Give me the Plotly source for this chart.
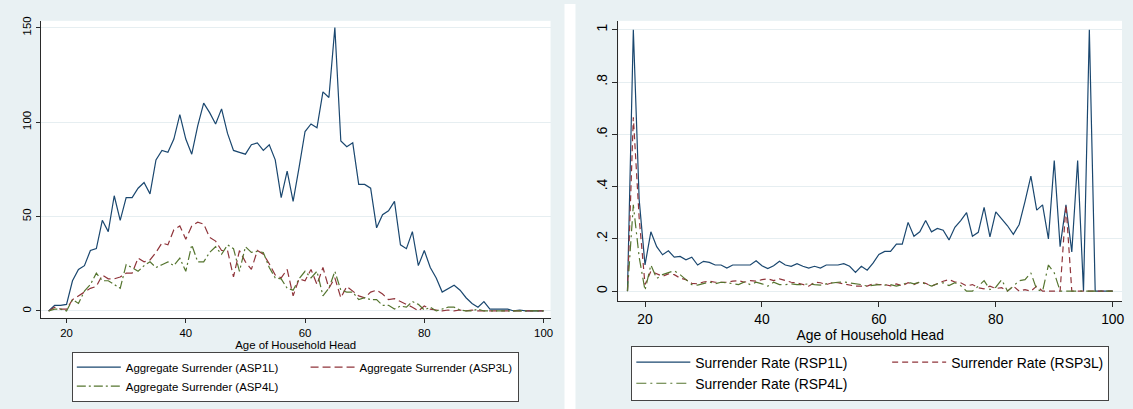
import plotly.graph_objects as go

# ---------------- data ----------------
ages = list(range(17, 101))

asp1l = [0, 3, 3, 3.5, 16, 22, 24, 32, 33, 48, 42, 61, 48, 60, 60, 65, 68, 62, 80, 85,
         84, 91, 104, 91, 83, 98, 110, 105, 99, 107, 94, 85, 84, 83, 88, 89, 85, 88, 80, 60,
         74, 58, 76, 95, 99, 97, 116, 113, 150, 90, 87, 89, 67, 67, 65, 44, 51, 53, 58, 35,
         33, 42, 24, 32, 23, 17.5, 10, 12, 13.6, 11, 7, 4, 2, 5, 1, 1, 1, 1, 0, 0.5,
         0, 0, 0, 0]
asp3l = [0, 2, 1, 1, 6, 8, 10, 12, 13, 19, 17, 17, 18, 20, 20, 28, 26, 27, 31, 36,
         35, 43, 45, 38, 45, 47, 46, 39, 37, 32, 32, 18, 32, 26, 22, 32, 30, 25, 19, 17.5,
         22, 8, 17, 16, 22, 14, 23, 12, 17.5, 7, 13, 10.5, 8, 7, 10, 11, 9, 6, 6.5, 5,
         3.5, 2, 0, 2.6, 1, 0.5, 0, 0.5, 0, 0.5, 0, 0.5, 0, 0, 0, 0, 0, 0, 0, 0,
         0, 0, 0, 0]
asp4l = [0, 1, 1, 0, 6, 4, 10.5, 14, 20, 16, 16, 14, 12, 24.5, 23, 21, 24, 26, 23, 24.5,
         26, 24, 28, 21, 35, 26, 26, 31, 34, 30, 35, 33, 21, 34, 31, 31.5, 31, 23, 17.5, 17,
         12, 11, 17, 21, 17.5, 21, 8, 12, 21, 11, 10, 10, 6, 7, 6, 6, 3, 3, 1, 2.6,
         2, 5, 3.5, 0.5, 2, 0, 1, 2, 2, 0.5, 0, 0, 1, 0, 0, 0, 0, 0, 0, 0,
         0, 0, 0, 0]

rsp1l = [0, 1.0, 0.35, 0.1, 0.227, 0.17, 0.139, 0.154, 0.13, 0.133, 0.12, 0.13, 0.10, 0.114,
         0.11, 0.10, 0.10, 0.088, 0.10, 0.10, 0.10, 0.10, 0.116, 0.097, 0.086, 0.097, 0.114,
         0.10, 0.095, 0.105, 0.095, 0.088, 0.095, 0.088, 0.10, 0.10, 0.10, 0.105, 0.095,
         0.072, 0.095, 0.08, 0.107, 0.14, 0.152, 0.152, 0.18, 0.18, 0.263, 0.21, 0.227,
         0.27, 0.227, 0.24, 0.233, 0.196, 0.244, 0.27, 0.30, 0.21, 0.225, 0.32, 0.208,
         0.303, 0.275, 0.25, 0.217, 0.255, 0.343, 0.44, 0.31, 0.33, 0.2, 0.5, 0.17, 0.33,
         0.15, 0.5, 0, 1.0, 0, 0, 0, 0]
rsp3l = [0, 0.665, 0.28, 0.025, 0.076, 0.067, 0.057, 0.066, 0.063, 0.05, 0.044, 0.03, 0.028,
         0.035, 0.038, 0.034, 0.034, 0.034, 0.038, 0.04, 0.034, 0.04, 0.038, 0.044, 0.047,
         0.04, 0.047, 0.04, 0.034, 0.032, 0.025, 0.019, 0.034, 0.032, 0.025, 0.032, 0.032,
         0.028, 0.025, 0.019, 0.019, 0.019, 0.028, 0.025, 0.025, 0.02, 0.028, 0.02, 0.032,
         0.025, 0.035, 0.03, 0.019, 0.03, 0.038, 0.044, 0.035, 0.032, 0.02, 0.025, 0.013,
         0.009, 0.019, 0.01, 0.013, 0, 0.019, 0, 0.006, 0, 0.019, 0, 0, 0, 0, 0.33, 0,
         0, 0, 0, 0, 0, 0, 0]
rsp4l = [0, 0.33, 0.13, 0.003, 0.10, 0.048, 0.063, 0.07, 0.078, 0.063, 0.044, 0.025, 0.023,
         0.028, 0.035, 0.028, 0.034, 0.032, 0.028, 0.025, 0.035, 0.025, 0.034, 0.028, 0.019,
         0.034, 0.025, 0.025, 0.028, 0.025, 0.025, 0.028, 0.025, 0.023, 0.028, 0.032, 0.034,
         0.035, 0.032, 0.028, 0.025, 0.019, 0.021, 0.025, 0.023, 0.025, 0.019, 0.025, 0.034,
         0.028, 0.034, 0.028, 0.019, 0.028, 0.032, 0.021, 0.032, 0.021, 0, 0, 0.019, 0.04,
         0.006, 0.015, 0.044, 0, 0.019, 0.04, 0.044, 0.07, 0.006, 0, 0.1, 0.07, 0, 0,
         0, 0, 0, 0, 0, 0, 0, 0]

x_ticks = [20, 40, 60, 80, 100]
left_y_ticks = [0, 50, 100, 150]
right_y_ticks = [0, 0.2, 0.4, 0.6, 0.8, 1.0]
right_y_labels = ["0", ".2", ".4", ".6", ".8", "1"]

names_left = ["Aggregate Surrender (ASP1L)", "Aggregate Surrender (ASP3L)", "Aggregate Surrender (ASP4L)"]
names_right = ["Surrender Rate (RSP1L)", "Surrender Rate (RSP3L)", "Surrender Rate (RSP4L)"]
x_title = "Age of Household Head"

# ---------------- style ----------------
W, H = 1133, 409
NAVY = "#1A476F"
MAROON = "#90353B"
GREEN = "#55752F"
BG = "#E9F1F3"
GRID = "#E6EEF1"
AX = "#2a2a2a"
FONT = "Liberation Sans, Arial, sans-serif"
FL = 11.4    # left panel font size
FR = 13.9    # right panel font size
NB = "\u00a0"
PAD_L = NB * 7   # spacing after first legend column (left panel)
PAD_R = NB * 9   # spacing after first legend column (right panel)

fig = go.Figure()

left_series = [(asp1l, NAVY, "solid", "a", PAD_L), (asp3l, MAROON, "8px,4px", "b", ""),
               (asp4l, GREEN, "9px,3px,2px,3px", "a", PAD_L)]
for (vals, col, dash, grp, pad), nm in zip(left_series, names_left):
    fig.add_trace(go.Scatter(x=ages, y=vals, mode="lines", name=nm + pad,
                             line=dict(color=col, width=1.2, dash=dash),
                             xaxis="x", yaxis="y", legend="legend", legendgroup=grp))

right_series = [(rsp1l, NAVY, "solid", "a", PAD_R), (rsp3l, MAROON, "6px,4px", "b", ""),
                (rsp4l, GREEN, "10px,4px,2px,4px", "a", PAD_R)]
for (vals, col, dash, grp, pad), nm in zip(right_series, names_right):
    fig.add_trace(go.Scatter(x=ages, y=vals, mode="lines", name=nm + pad,
                             line=dict(color=col, width=1.2, dash=dash),
                             xaxis="x2", yaxis="y2", legend="legend2", legendgroup=grp + "r"))

common_ax = dict(showline=True, linecolor=AX, linewidth=1, ticks="outside", tickcolor=AX,
                 zeroline=False, color="#000")

fig.update_layout(
    width=W, height=H, margin=dict(l=0, r=0, t=0, b=0),
    paper_bgcolor=BG, plot_bgcolor="white",
    font=dict(family=FONT, color="#000"),
    showlegend=True,
    xaxis=dict(domain=[41 / W, 552 / W], range=[15.7, 101.17], tickvals=x_ticks,
               showgrid=False, ticklen=4, tickfont=dict(size=FL), anchor="y",
               title=dict(text=x_title, font=dict(size=FL), standoff=3), **common_ax),
    yaxis=dict(domain=[1 - 317 / H, 1 - 17 / H], range=[-3.67, 153.6], tickvals=left_y_ticks,
               tickangle=-90, showgrid=True, gridcolor=GRID, gridwidth=1.2, ticklen=4,
               tickfont=dict(size=FL), anchor="x", **common_ax),
    xaxis2=dict(domain=[620 / W, 1125 / W], range=[15.44, 101.59], tickvals=x_ticks,
                showgrid=False, ticklen=5, tickfont=dict(size=FR), anchor="y2",
                title=dict(text=x_title, font=dict(size=FR), standoff=1), **common_ax),
    yaxis2=dict(domain=[1 - 300 / H, 1 - 17 / H], range=[-0.038, 1.034], tickvals=right_y_ticks,
                ticktext=right_y_labels, tickangle=-90, showgrid=True, gridcolor=GRID,
                gridwidth=1.2, ticklen=5, tickfont=dict(size=FR), anchor="x2", **common_ax),
    legend=dict(x=72 / W, y=1 - 351 / H, xanchor="left", yanchor="top", orientation="h",
                traceorder="grouped", bgcolor="white", bordercolor="#444", borderwidth=1,
                font=dict(size=FL, family=FONT), itemwidth=44, tracegroupgap=0),
    legend2=dict(x=633 / W, y=1 - 345 / H, xanchor="left", yanchor="top", orientation="h",
                 traceorder="grouped", bgcolor="white", bordercolor="#444", borderwidth=1,
                 font=dict(size=FR, family=FONT), itemwidth=54, tracegroupgap=0),
    shapes=[dict(type="rect", xref="paper", yref="paper", x0=566 / W, x1=577 / W, y0=0, y1=1,
                 fillcolor="white", line=dict(width=0), layer="below")],
)

fig.write_html("out.html")
